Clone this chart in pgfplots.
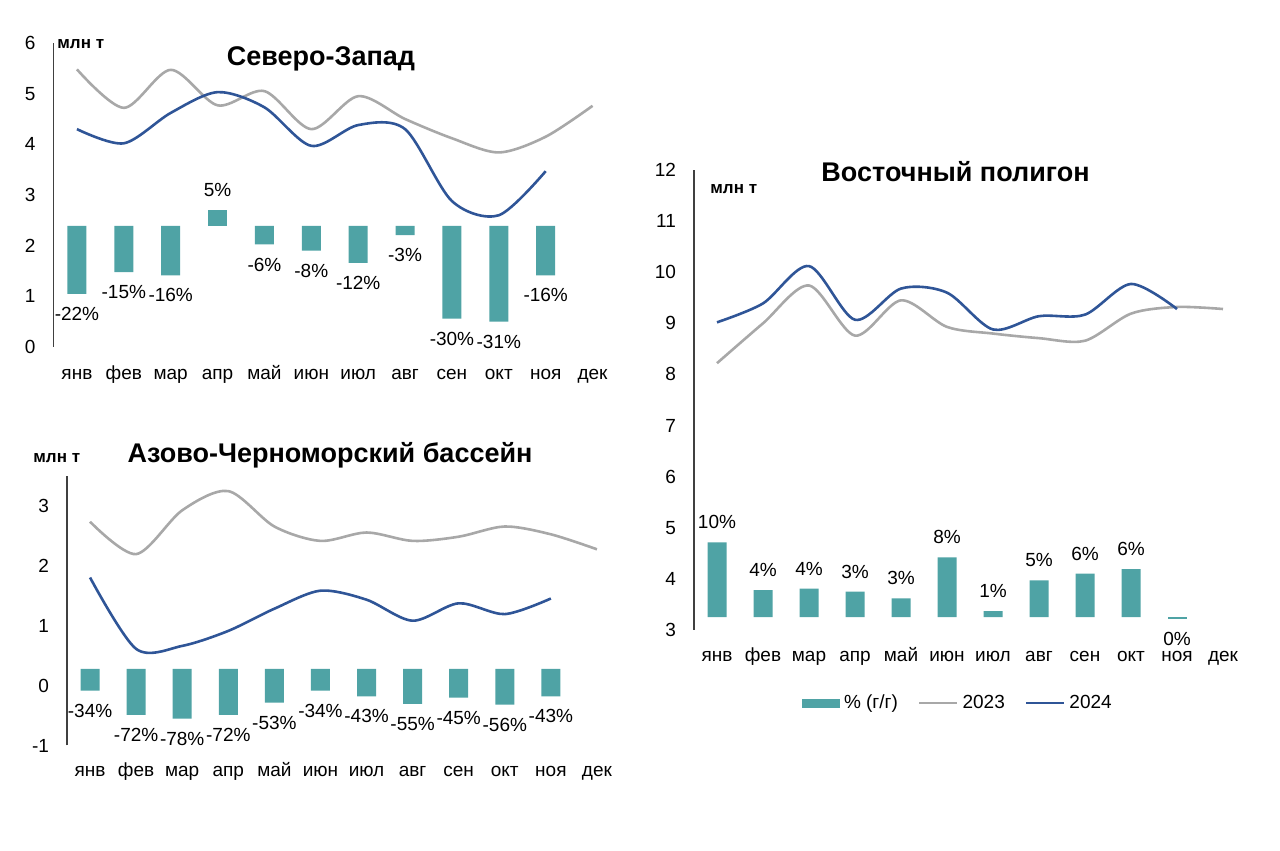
\documentclass[border=0pt]{standalone}
\usepackage{pgfplots}
\pgfplotsset{compat=1.18}
\usepackage{fontspec}
\setmainfont{Liberation Sans}
\definecolor{barc}{RGB}{79,163,165}
\definecolor{c23}{RGB}{168,168,168}
\definecolor{c24}{RGB}{47,85,151}
\newcommand{\tf}{\fontsize{9.5}{11}\selectfont}
\pgfplotsset{
  base/.style={
    scale only axis, xmin=-0.5, xmax=11.5,
    xtick={0,...,11},
    xticklabels={янв,фев,мар,апр,май,июн,июл,авг,сен,окт,ноя,дек},
    axis lines=left, axis line style={-, black!75, line width=0.6pt},
    x axis line style={draw=none},
    major tick length=0pt,
    tick label style={font=\tf},
    /pgf/number format/assume math mode=true,
    yticklabel style={xshift=-5.5pt},
    anchor=south west, clip=false,
  },
  bars/.style={
    scale only axis, xmin=-0.5, xmax=11.5, hide axis, anchor=south west,
    ybar, bar width=9.5pt, bar shift=0pt, clip=false,
    nodes near coords, point meta=explicit symbolic,
    every node near coord/.append style={font=\tf, inner ysep=6.5pt, inner xsep=0pt, text=black},
  },
  neg/.style={fill=barc, draw=none, every node near coord/.append style={anchor=north}},
  pos/.style={fill=barc, draw=none, every node near coord/.append style={anchor=south}},
  l23/.style={c23, line width=1.3pt, smooth, no markers},
  l24/.style={c24, line width=1.3pt, smooth, no markers},
  legline/.style={legend image code/.code={\draw[##1] (0pt,0pt) -- (19pt,0pt);}},
}
\begin{document}
\begin{tikzpicture}
\useasboundingbox (0,0) rectangle (640pt,425.5pt);

% ---------------- Северо-Запад ----------------
\begin{axis}[bars, at={(26.75pt,252pt)}, width=281.25pt, height=152pt, ymin=-39.2, ymax=59.2]
\addplot[neg] coordinates {
(0,-22) [-22\%] (1,-15) [-15\%] (2,-16) [-16\%] (4,-6) [-6\%] (5,-8) [-8\%]
(6,-12) [-12\%] (7,-3) [-3\%] (8,-30) [-30\%] (9,-31) [-31\%] (10,-16) [-16\%]};
\addplot[pos] coordinates {(3,5) [5\%]};
\end{axis}
\begin{axis}[base, at={(26.75pt,252pt)}, width=281.25pt, height=152pt, ymin=0, ymax=6, ytick={0,...,6},
  xticklabel style={anchor=base, yshift=-16.5pt}]
\addplot[l23] coordinates {(0,5.48) (1,4.72) (2,5.47) (3,4.77) (4,5.05) (5,4.30) (6,4.95) (7,4.50) (8,4.12) (9,3.84) (10,4.15) (11,4.76)};
\addplot[l24] coordinates {(0,4.30) (1,4.02) (2,4.62) (3,5.03) (4,4.73) (5,3.97) (6,4.38) (7,4.30) (8,2.88) (9,2.60) (10,3.47)};
\end{axis}

% ---------------- Азово-Черноморский бассейн ----------------
\begin{axis}[bars, at={(33.5pt,52.75pt)}, width=276.5pt, height=135pt, ymin=-120.3, ymax=304.2]
\addplot[neg] coordinates {
(0,-34) [-34\%] (1,-72) [-72\%] (2,-78) [-78\%] (3,-72) [-72\%] (4,-53) [-53\%] (5,-34) [-34\%]
(6,-43) [-43\%] (7,-55) [-55\%] (8,-45) [-45\%] (9,-56) [-56\%] (10,-43) [-43\%]};
\end{axis}
\begin{axis}[base, at={(33.5pt,52.75pt)}, width=276.5pt, height=135pt, ymin=-1, ymax=3.5, ytick={-1,0,1,2,3},
  xticklabel style={anchor=base, yshift=-15.75pt}]
\addplot[l23] coordinates {(0,2.73) (1,2.19) (2,2.92) (3,3.24) (4,2.65) (5,2.41) (6,2.55) (7,2.41) (8,2.48) (9,2.65) (10,2.52) (11,2.27)};
\addplot[l24] coordinates {(0,1.80) (1,0.61) (2,0.66) (3,0.91) (4,1.28) (5,1.58) (6,1.43) (7,1.08) (8,1.37) (9,1.19) (10,1.45)};
\end{axis}

% ---------------- Восточный полигон ----------------
\begin{axis}[bars, at={(347pt,110.5pt)}, width=276pt, height=230pt, ymin=-1.74, ymax=59.9]
\addplot[pos] coordinates {
(0,10) [10\%] (1,3.6) [4\%] (2,3.8) [4\%] (3,3.4) [3\%] (4,2.5) [3\%] (5,8.0) [8\%]
(6,0.8) [1\%] (7,4.9) [5\%] (8,5.8) [6\%] (9,6.4) [6\%]};
\addplot[neg] coordinates {(10,-0.3) [0\%]};
\end{axis}
\begin{axis}[base, at={(347pt,110.5pt)}, width=276pt, height=230pt, ymin=3, ymax=12, ytick={3,...,12},
  xticklabel style={anchor=base, yshift=-16pt},
  legend style={at={(0.48,-0.159)}, anchor=center, draw=none, fill=none, font=\tf,
    legend columns=3, /tikz/every even column/.append style={column sep=8pt}},
  legend cell align=left]
\addlegendimage{legend image code/.code={\fill[barc] (0pt,-2pt) rectangle (18.5pt,2pt);}}
\addlegendentry{\% (г/г)}
\addplot[l23, legline] coordinates {(0,8.22) (1,9.00) (2,9.74) (3,8.76) (4,9.45) (5,8.93) (6,8.80) (7,8.71) (8,8.66) (9,9.19) (10,9.32) (11,9.28)};
\addlegendentry{2023}
\addplot[l24, legline] coordinates {(0,9.02) (1,9.39) (2,10.12) (3,9.07) (4,9.68) (5,9.60) (6,8.88) (7,9.14) (8,9.17) (9,9.77) (10,9.28)};
\addlegendentry{2024}
\end{axis}

% titles and units
\node[anchor=base, font=\bfseries\fontsize{13.5}{16}\selectfont] at (160.5pt,392.5pt) {Северо-Запад};
\node[anchor=base, font=\bfseries\fontsize{13.5}{16}\selectfont] at (165pt,194pt) {Азово-Черноморский бассейн};
\node[anchor=base, font=\bfseries\fontsize{13.5}{16}\selectfont] at (477.75pt,334.5pt) {Восточный полигон};
\node[anchor=base west, inner sep=0pt, font=\bfseries\fontsize{8.5}{10}\selectfont] at (28.5pt,401pt) {млн т};
\node[anchor=base west, inner sep=0pt, font=\bfseries\fontsize{8.5}{10}\selectfont] at (16.5pt,194pt) {млн т};
\node[anchor=base west, inner sep=0pt, font=\bfseries\fontsize{8.5}{10}\selectfont] at (355pt,328.5pt) {млн т};
\end{tikzpicture}
\end{document}
